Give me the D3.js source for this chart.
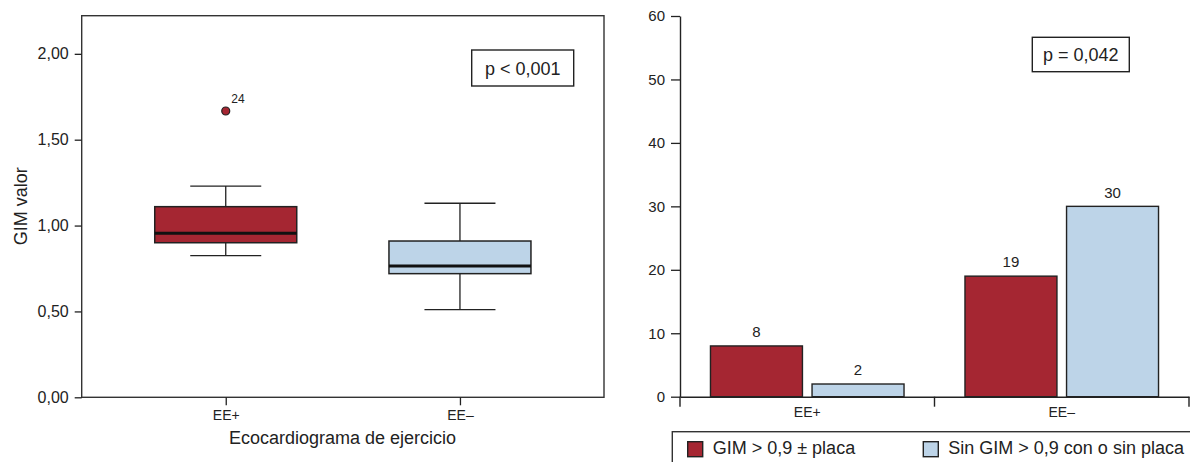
<!DOCTYPE html>
<html>
<head>
<meta charset="utf-8">
<script src="https://cdn.jsdelivr.net/npm/d3@7"></script>
<style>
  body { margin: 0; background: #fff; }
  svg { display: block; font-family: "Liberation Sans", Arial, sans-serif; }
</style>
</head>
<body>
<div id="chart"></div>
<script>
// DATA - box plot (GIM valor by exercise echo result)
var boxGroups = ["EE+", "EE–"];
var boxQ1 = [0.90, 0.72];
var boxMedian = [0.955, 0.765];
var boxQ3 = [1.11, 0.91];
var whiskerLow = [0.825, 0.51];
var whiskerHigh = [1.23, 1.13];
var outlierGroups = ["EE+"];
var outlierValues = [1.667];
var outlierLabels = ["24"];
var boxTicks = [0, 0.5, 1, 1.5, 2];

// DATA - bar chart (counts)
var barGroups = ["EE+", "EE–"];
var seriesNames = ["GIM > 0,9 ± placa", "Sin GIM > 0,9 con o sin placa"];
var seriesValues = [[8, 19], [2, 30]];
var barTicks = [0, 10, 20, 30, 40, 50, 60];

var red = "#a52632";
var blue = "#bdd4e8";
var ink = "#222";

var svg = d3.select("#chart").append("svg")
  .attr("width", 1190)
  .attr("height", 462);

var fmtComma = function(d) { return d3.format(".2f")(d).replace(".", ","); };

// LEFT PANEL - box plot
var bx = d3.scalePoint().domain(boxGroups).range([81.7, 604]).padding(0.615);
var by = d3.scaleLinear().domain([0, 2.222]).range([397.3, 15.7]);
var boxW = 142;

var left = svg.append("g");

left.append("rect")
  .attr("x", 81.7).attr("y", 15.7)
  .attr("width", 604 - 81.7).attr("height", 397.3 - 15.7)
  .attr("fill", "none").attr("stroke", "#333").attr("stroke-width", 1.4);

var yAxL = left.append("g")
  .attr("transform", "translate(81.7,0)")
  .call(d3.axisLeft(by).tickValues(boxTicks).tickFormat(fmtComma).tickSize(7).tickPadding(6).tickSizeOuter(0));
yAxL.select(".domain").remove();
yAxL.selectAll("line").attr("stroke", ink).attr("stroke-width", 1.3);
yAxL.selectAll("text").attr("font-size", 16).attr("fill", ink).attr("font-family", null);

var xAxL = left.append("g")
  .attr("transform", "translate(0,397.3)")
  .call(d3.axisBottom(bx).tickSize(8).tickPadding(5).tickSizeOuter(0));
xAxL.select(".domain").remove();
xAxL.selectAll("line").attr("stroke", ink).attr("stroke-width", 1.3);
xAxL.selectAll("text").attr("font-size", 14).attr("fill", ink).attr("font-family", null);

left.append("text")
  .attr("x", 342.5).attr("y", 444)
  .attr("text-anchor", "middle")
  .attr("font-size", 18).attr("fill", ink)
  .text("Ecocardiograma de ejercicio");

left.append("text")
  .attr("transform", "translate(26.5,206.3) rotate(-90)")
  .attr("text-anchor", "middle")
  .attr("font-size", 18).attr("fill", ink)
  .text("GIM valor");

var boxFill = [red, blue];
var boxes = left.selectAll(".box")
  .data(boxGroups)
  .enter().append("g")
  .attr("class", "box");

// whiskers
boxes.append("line")
  .attr("x1", function(d) { return bx(d); })
  .attr("x2", function(d) { return bx(d); })
  .attr("y1", function(d, i) { return by(whiskerHigh[i]); })
  .attr("y2", function(d, i) { return by(boxQ3[i]); })
  .attr("stroke", ink).attr("stroke-width", 1.3);
boxes.append("line")
  .attr("x1", function(d) { return bx(d); })
  .attr("x2", function(d) { return bx(d); })
  .attr("y1", function(d, i) { return by(boxQ1[i]); })
  .attr("y2", function(d, i) { return by(whiskerLow[i]); })
  .attr("stroke", ink).attr("stroke-width", 1.3);
boxes.append("line")
  .attr("x1", function(d) { return bx(d) - boxW / 4; })
  .attr("x2", function(d) { return bx(d) + boxW / 4; })
  .attr("y1", function(d, i) { return by(whiskerHigh[i]); })
  .attr("y2", function(d, i) { return by(whiskerHigh[i]); })
  .attr("stroke", ink).attr("stroke-width", 1.3);
boxes.append("line")
  .attr("x1", function(d) { return bx(d) - boxW / 4; })
  .attr("x2", function(d) { return bx(d) + boxW / 4; })
  .attr("y1", function(d, i) { return by(whiskerLow[i]); })
  .attr("y2", function(d, i) { return by(whiskerLow[i]); })
  .attr("stroke", ink).attr("stroke-width", 1.3);

boxes.append("rect")
  .attr("x", function(d) { return bx(d) - boxW / 2; })
  .attr("y", function(d, i) { return by(boxQ3[i]); })
  .attr("width", boxW)
  .attr("height", function(d, i) { return by(boxQ1[i]) - by(boxQ3[i]); })
  .attr("fill", function(d, i) { return boxFill[i]; })
  .attr("stroke", ink).attr("stroke-width", 1.5);

boxes.append("line")
  .attr("x1", function(d) { return bx(d) - boxW / 2; })
  .attr("x2", function(d) { return bx(d) + boxW / 2; })
  .attr("y1", function(d, i) { return by(boxMedian[i]); })
  .attr("y2", function(d, i) { return by(boxMedian[i]); })
  .attr("stroke", "#111").attr("stroke-width", 3);

left.selectAll(".outlier")
  .data(outlierValues)
  .enter().append("circle")
  .attr("class", "outlier")
  .attr("cx", function(d, i) { return bx(outlierGroups[i]); })
  .attr("cy", function(d) { return by(d); })
  .attr("r", 4)
  .attr("fill", red).attr("stroke", ink).attr("stroke-width", 1.2);

left.selectAll(".outlier-label")
  .data(outlierValues)
  .enter().append("text")
  .attr("class", "outlier-label")
  .attr("x", function(d, i) { return bx(outlierGroups[i]) + 5.5; })
  .attr("y", function(d) { return by(d) - 8.3; })
  .attr("font-size", 12).attr("fill", ink)
  .text(function(d, i) { return outlierLabels[i]; });

left.append("rect")
  .attr("x", 471.7).attr("y", 50).attr("width", 102).attr("height", 36)
  .attr("fill", "#fff").attr("stroke", ink).attr("stroke-width", 1.4);
left.append("text")
  .attr("x", 471.7 + 51).attr("y", 74.5)
  .attr("text-anchor", "middle").attr("font-size", 18).attr("fill", ink)
  .text("p < 0,001");

// RIGHT PANEL - grouped bars
var gx = d3.scaleBand().domain(barGroups).range([680, 1189]);
var sx = d3.scaleBand().domain(seriesNames).range([0, gx.bandwidth()])
  .paddingInner(0.0945).paddingOuter(0.3);
var gy = d3.scaleLinear().domain([0, 60]).range([396.7, 16]);
var barFill = [red, blue];

var right = svg.append("g");

right.selectAll(".series")
  .data(seriesNames)
  .enter().append("g")
  .attr("class", "series")
  .each(function(name, si) {
    var g = d3.select(this);
    g.selectAll("rect")
      .data(seriesValues[si])
      .enter().append("rect")
      .attr("x", function(v, gi) { return gx(barGroups[gi]) + sx(name); })
      .attr("y", function(v) { return gy(v); })
      .attr("width", sx.bandwidth())
      .attr("height", function(v) { return gy(0) - gy(v); })
      .attr("fill", barFill[si])
      .attr("stroke", ink).attr("stroke-width", 1.4);
    g.selectAll("text")
      .data(seriesValues[si])
      .enter().append("text")
      .attr("x", function(v, gi) { return gx(barGroups[gi]) + sx(name) + sx.bandwidth() / 2; })
      .attr("y", function(v) { return gy(v) - 8.7; })
      .attr("text-anchor", "middle").attr("font-size", 15).attr("fill", ink)
      .text(function(v) { return v; });
  });

var yAxR = right.append("g")
  .attr("transform", "translate(680,0)")
  .call(d3.axisLeft(gy).tickValues(barTicks).tickSize(9).tickPadding(6).tickSizeOuter(0));
yAxR.select(".domain").attr("stroke", ink).attr("stroke-width", 1.4);
yAxR.selectAll("line").attr("stroke", ink).attr("stroke-width", 1.3);
yAxR.selectAll("text").attr("font-size", 15).attr("fill", ink).attr("font-family", null);

var xAxR = right.append("g")
  .attr("transform", "translate(0,396.7)")
  .call(d3.axisBottom(gx).tickSize(0).tickPadding(10.7).tickSizeOuter(0));
xAxR.select(".domain").attr("stroke", ink).attr("stroke-width", 1.4);
xAxR.selectAll("text").attr("font-size", 14).attr("fill", ink).attr("font-family", null);

// category separators
var bounds = barGroups.map(function(d) { return gx(d); }).concat([gx.range()[1]]);
right.selectAll(".sep")
  .data(bounds)
  .enter().append("line")
  .attr("class", "sep")
  .attr("x1", function(d) { return d; }).attr("x2", function(d) { return d; })
  .attr("y1", gy(0)).attr("y2", gy(0) + 10)
  .attr("stroke", ink).attr("stroke-width", 1.4);

right.append("rect")
  .attr("x", 1032.3).attr("y", 37.3).attr("width", 97).attr("height", 34.4)
  .attr("fill", "#fff").attr("stroke", ink).attr("stroke-width", 1.4);
right.append("text")
  .attr("x", 1032.3 + 48.5).attr("y", 60.5)
  .attr("text-anchor", "middle").attr("font-size", 18).attr("fill", ink)
  .text("p = 0,042");

// legend
var legend = right.append("g");
legend.append("rect")
  .attr("x", 672.3).attr("y", 431.7).attr("width", 600).attr("height", 60)
  .attr("fill", "none").attr("stroke", "#333").attr("stroke-width", 1.4);
var legendX = [687.7, 923.3];
var items = legend.selectAll(".item")
  .data(seriesNames)
  .enter().append("g")
  .attr("class", "item")
  .attr("transform", function(d, i) { return "translate(" + legendX[i] + ",441.7)"; });
items.append("rect")
  .attr("width", 15).attr("height", 15)
  .attr("fill", function(d, i) { return barFill[i]; })
  .attr("stroke", ink).attr("stroke-width", 1.4);
items.append("text")
  .attr("x", 25).attr("y", 12.3)
  .attr("font-size", 18).attr("fill", ink)
  .text(function(d) { return d; });
</script>
</body>
</html>
